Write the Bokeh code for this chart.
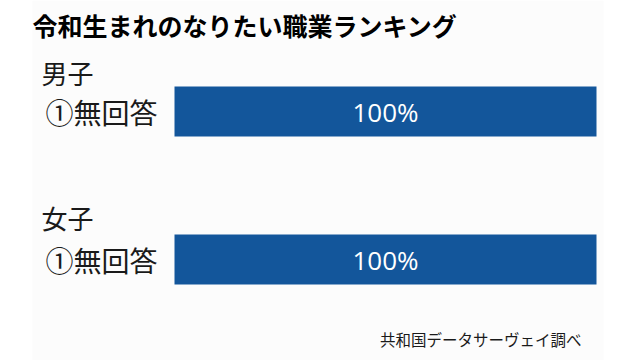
from bokeh.plotting import figure
from bokeh.models import Range1d
from bokeh.core.properties import value
from bokeh.embed import file_html
from bokeh.resources import INLINE

# ---- data ----
title_text = "令和生まれのなりたい職業ランキング"
groups = ["男子", "女子"]
answers = ["①無回答", "①無回答"]
shares = [100, 100]          # percent
source_note = "共和国データサーヴェイ調べ"

# ---- layout (pixels) ----
W, H = 640, 360
BAR_LEFT_PX = 174
PX_PER_UNIT = 4.22
GROUP_Y = [72, 217]
BAR_Y = [111, 259]
BAR_H = 50

def sx(px):
    return (px - BAR_LEFT_PX) / PX_PER_UNIT

JP = value("Noto Sans CJK JP")

p = figure(width=W, height=H, output_backend="svg", toolbar_location=None,
           x_range=Range1d(sx(0), sx(W)), y_range=Range1d(H, 0),
           x_axis_type=None, y_axis_type=None, min_border=0,
           background_fill_color="white", border_fill_color="white")
p.outline_line_color = None
p.grid.visible = False

# subtle panel
p.quad(left=[sx(32)], right=[sx(603)], top=[0], bottom=[H],
       fill_color="#fcfcfc", line_color=None)

# title
p.text(x=[sx(32)], y=[24], text=[title_text], text_font=JP, text_font_style="bold",
       text_font_size="25px", text_color="#000000", text_align="left", text_baseline="middle")

# group headers
p.text(x=[sx(41)] * len(groups), y=GROUP_Y, text=groups, text_font=JP,
       text_font_size="26px", text_color="#1a1a1a", text_align="left", text_baseline="middle")

# item labels
p.text(x=[sx(45)] * len(answers), y=BAR_Y, text=answers, text_font=JP,
       text_font_size="28px", text_color="#1a1a1a", text_align="left", text_baseline="middle")

# bars
p.hbar(y=BAR_Y, left=0, right=shares, height=BAR_H, fill_color="#13569b", line_color=None)

# value labels
p.text(x=[s / 2 for s in shares], y=BAR_Y, text=[f"{s}%" for s in shares],
       text_font=value("Open Sans"), text_font_size="26px", text_color="white",
       text_align="center", text_baseline="middle")

# source note
p.text(x=[sx(581)], y=[338], text=[source_note], text_font=JP, text_font_size="15.5px",
       text_color="#1a1a1a", text_align="right", text_baseline="middle")

open("out.html", "w").write(file_html(p, INLINE))
